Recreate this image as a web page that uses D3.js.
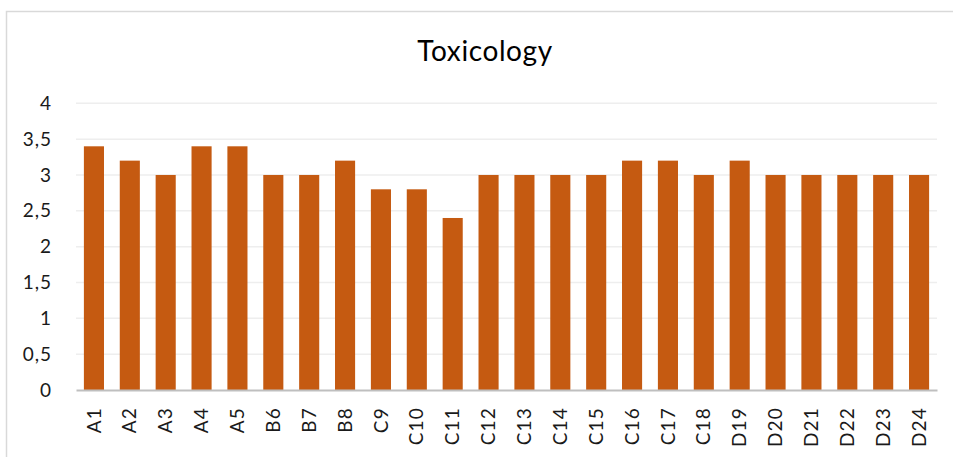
<!DOCTYPE html>
<html><head><meta charset="utf-8">
<script src="https://cdn.jsdelivr.net/npm/d3@7"></script>
<style>body{margin:0;background:#fff}svg{display:block}</style>
</head><body>
<svg id="c" width="953" height="457"></svg>
<script>
const categories = ["A1","A2","A3","A4","A5","B6","B7","B8","C9","C10","C11","C12","C13","C14","C15","C16","C17","C18","D19","D20","D21","D22","D23","D24"];
const values = [3.4,3.2,3,3.4,3.4,3,3,3.2,2.8,2.8,2.4,3,3,3,3,3.2,3.2,3,3.2,3,3,3,3,3];
const yTicks = [0,0.5,1,1.5,2,2.5,3,3.5,4];
const title = "Toxicology";

(function(){
const svg = d3.select("#c");
const font = "Lato, 'Open Sans', sans-serif";
svg.append("rect").attr("x",6.5).attr("y",11.5).attr("width",960).attr("height",470)
  .attr("fill","#fff").attr("stroke","#d9d9d9").attr("stroke-width",1.5);

const pl=76, pr=937, pt=103.3, pb=390;
const x = d3.scaleBand().domain(categories).range([pl,pr]).paddingInner(0.44).paddingOuter(0.22);
const y = d3.scaleLinear().domain([0,4]).range([pb,pt]);

svg.append("g").selectAll("line").data(yTicks.filter(d=>d>0)).join("line")
  .attr("x1",pl).attr("x2",pr).attr("y1",d=>y(d)).attr("y2",d=>y(d))
  .attr("stroke","#eeeeee").attr("stroke-width",1.5);

svg.append("g").selectAll("rect").data(values).join("rect")
  .attr("x",(d,i)=>x(categories[i])).attr("width",x.bandwidth())
  .attr("y",d=>y(d)).attr("height",d=>y(0)-y(d)).attr("fill","#c55a11");

const yAxis = svg.append("g").attr("transform",`translate(${pl},0)`)
  .call(d3.axisLeft(y).tickValues(yTicks).tickSize(0).tickPadding(24).tickFormat(d=>String(d).replace(".",",")));
yAxis.select(".domain").remove();
yAxis.selectAll("text").attr("font-family",font).attr("font-size",19).attr("letter-spacing",1).attr("fill","#1a1a1a");

const xAxis = svg.append("g").attr("transform",`translate(0,${pb})`)
  .call(d3.axisBottom(x).tickSize(0).tickPadding(0));
xAxis.select(".domain").attr("stroke","#bfbfbf").attr("stroke-width",2);
xAxis.selectAll("text").attr("font-family",font).attr("font-size",19).attr("letter-spacing",1.2).attr("fill","#1a1a1a")
  .attr("transform","rotate(-90)").attr("text-anchor","end").attr("x",-17).attr("y",0).attr("dy","0.35em");

svg.append("text").attr("x",485).attr("y",61).attr("text-anchor","middle")
  .attr("font-family",font).attr("font-size",28).attr("letter-spacing",0.6).attr("fill","#000").text(title);
})();
</script>
</body></html>
